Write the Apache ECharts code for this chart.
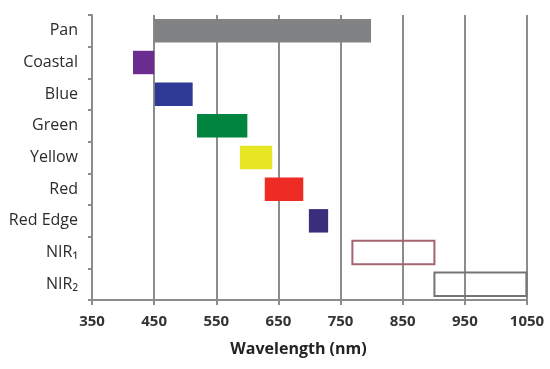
<!DOCTYPE html>
<html><head><meta charset="utf-8">
<script src="https://cdn.jsdelivr.net/npm/echarts@6/dist/echarts.min.js"></script>
<style>html,body{margin:0;padding:0;background:#fff}#c{width:550px;height:369px}</style>
</head><body><div id="c"></div>
<script>
const categories = ['Pan','Coastal','Blue','Green','Yellow','Red','Red Edge','NIR₁','NIR₂'];
const bandStart = [450, 416, 451, 519, 588, 628, 699, 769, 901];
const bandEnd   = [799, 450, 512, 600, 640, 690, 730, 901, 1049];
const xTicks = [350, 450, 550, 650, 750, 850, 950, 1050];

const fills   = ['#808284','#6b2d8f','#2e3a96','#00843f','#e6e622','#ee2b24','#3b2c7c','none','none'];
const strokes = [null,null,null,null,null,null,null,'#a3646f','#747474'];

const data = categories.map((c,i)=>[bandStart[i], bandEnd[i], i]);
const chart = echarts.init(document.getElementById('c'));
const font = '"Open Sans", "Noto Sans", sans-serif';
chart.setOption({
  animation:false,
  grid:{left:92,right:23,top:15,bottom:69},
  xAxis:{type:'value',min:xTicks[0],max:xTicks[xTicks.length-1],interval:100,
    axisLine:{show:true,lineStyle:{color:'#8c8c8c',width:2}},
    axisTick:{show:true,length:5,lineStyle:{color:'#8c8c8c',width:2}},
    splitLine:{show:true,lineStyle:{color:'#8c8c8c',width:2}},
    axisLabel:{color:'#333',fontFamily:font,fontWeight:'bold',fontSize:15,margin:14,
      formatter:function(v){return String(v);}},
    name:'Wavelength (nm)',nameLocation:'middle',nameGap:41,
    nameTextStyle:{color:'#222',fontFamily:font,fontWeight:'bold',fontSize:16,padding:[0,22,0,0]}
  },
  yAxis:{type:'category',data:categories,inverse:true,
    axisLine:{show:true,lineStyle:{color:'#8c8c8c',width:2}},
    axisTick:{show:true,length:4,lineStyle:{color:'#8c8c8c',width:2}},
    splitLine:{show:false},
    axisLabel:{color:'#2b2b2b',fontFamily:font,fontSize:16,margin:14}
  },
  series:[{type:'custom',data:data,
    encode:{x:[0,1],y:2},
    renderItem:function(params,api){
      const i = api.value(2);
      const s = api.coord([api.value(0), i]);
      const e = api.coord([api.value(1), i]);
      const h = api.size([0,1])[1]*0.74;
      const isOutline = fills[i]==='none';
      return {type:'rect',
        shape:{x:s[0],y:s[1]-h/2,width:e[0]-s[0],height:h},
        style: isOutline ? {fill:null,stroke:strokes[i],lineWidth:2} : {fill:fills[i]}
      };
    }
  }]
});
</script></body></html>
